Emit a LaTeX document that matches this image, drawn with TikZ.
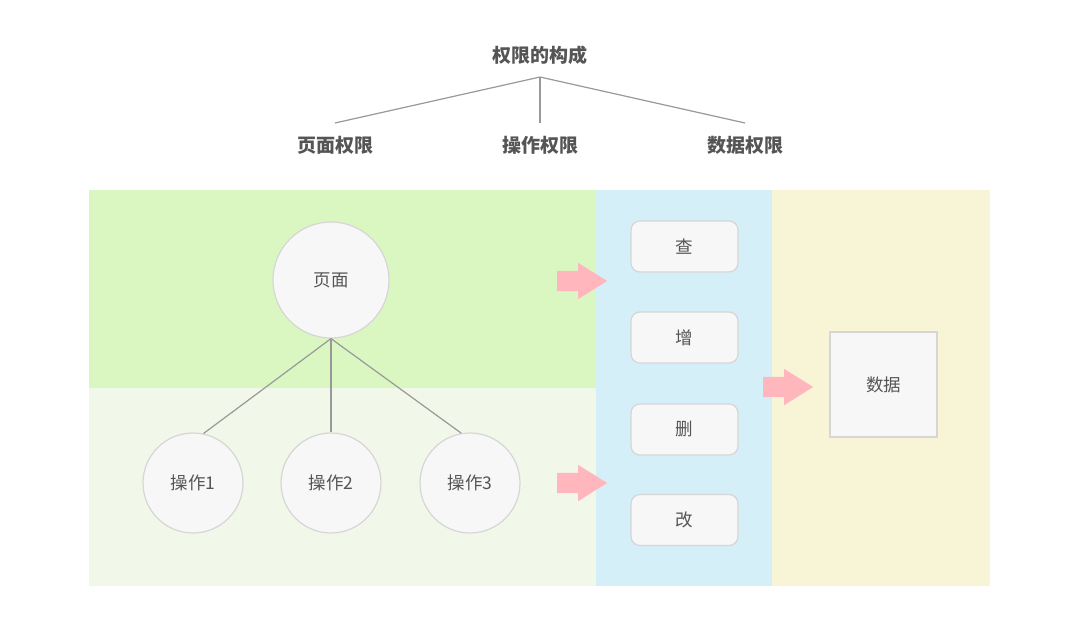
\documentclass[tikz,border=0pt]{standalone}
\usepackage{fontspec}
\setmainfont{Noto Sans CJK SC}
\usetikzlibrary{shapes.arrows}
\definecolor{gtop}{HTML}{DAF7C2}
\definecolor{gbot}{HTML}{F1F7E9}
\definecolor{bcol}{HTML}{D5EFF8}
\definecolor{ycol}{HTML}{F8F4D6}
\definecolor{pinkc}{HTML}{FFB7BD}
\definecolor{nfill}{HTML}{F7F7F7}
\definecolor{nborder}{HTML}{D6D6D6}
\definecolor{lcol}{HTML}{999999}
\definecolor{tcol}{HTML}{555555}
\tikzset{
  circnode/.style={circle, draw=nborder, fill=nfill, line width=1.2pt, text=tcol, font=\fontsize{17.5}{20}\selectfont, inner sep=0pt},
  opbox/.style={rounded corners=9pt, draw=nborder, fill=nfill, line width=1.2pt, text=tcol, font=\fontsize{17.5}{20}\selectfont, minimum width=107pt, minimum height=51pt},
  databox/.style={draw=nborder, fill=nfill, line width=1.2pt, text=tcol, font=\fontsize{17.5}{20}\selectfont, minimum width=107pt, minimum height=105pt},
  toplabel/.style={text=tcol, font=\fontsize{19}{22}\selectfont\bfseries},
  conn/.style={draw=lcol, line width=1.2pt},
  pinkarrow/.style={single arrow, fill=pinkc, draw=none, minimum height=50pt, inner sep=10pt, single arrow head extend=8pt, single arrow tip angle=64, single arrow head indent=0pt}
}
\begin{document}
\begin{tikzpicture}[x=1pt,y=-1pt]
\useasboundingbox (0,0) rectangle (1080,638);
\fill[white] (0,0) rectangle (1080,638);
% backgrounds
\fill[gtop] (89,190) rectangle (596,388);
\fill[gbot] (89,388) rectangle (596,586);
\fill[bcol] (596,190) rectangle (772,586);
\fill[ycol] (772,190) rectangle (990,586);
% top tree
\node[toplabel] (root) at (540,55) {权限的构成};
\coordinate (rb) at (540,77);
\node[toplabel] (l1) at (335,145) {页面权限};
\node[toplabel] (l2) at (540,145) {操作权限};
\node[toplabel] (l3) at (745,145) {数据权限};
\coordinate (l1t) at (335,123);
\coordinate (l2t) at (540,123);
\coordinate (l3t) at (745,123);
\draw[conn] (rb) -- (l1t);
\draw[conn] (rb) -- (l2t);
\draw[conn] (rb) -- (l3t);
% page tree
\node[circnode, minimum size=116pt] (page) at (331,280) {页面};
\node[circnode, minimum size=100pt] (op1) at (193,483) {操作1};
\node[circnode, minimum size=100pt] (op2) at (331,483) {操作2};
\node[circnode, minimum size=100pt] (op3) at (470,483) {操作3};
\draw[conn] (page.south) -- (op1.78);
\draw[conn] (page.south) -- (op2.north);
\draw[conn] (page.south) -- (op3.100);
% op boxes
\node[opbox] (q) at (684.5,246.5) {查};
\node[opbox] (z) at (684.5,337.5) {增};
\node[opbox] (s) at (684.5,429.5) {删};
\node[opbox] (g) at (684.5,520) {改};
% data box
\node[databox] (data) at (883.5,384.5) {数据};
% arrows
\node[pinkarrow] (a1) at (574,281) {};
\node[pinkarrow] (a2) at (574,483) {};
\node[pinkarrow] (a3) at (780,387) {};
\end{tikzpicture}
\end{document}
